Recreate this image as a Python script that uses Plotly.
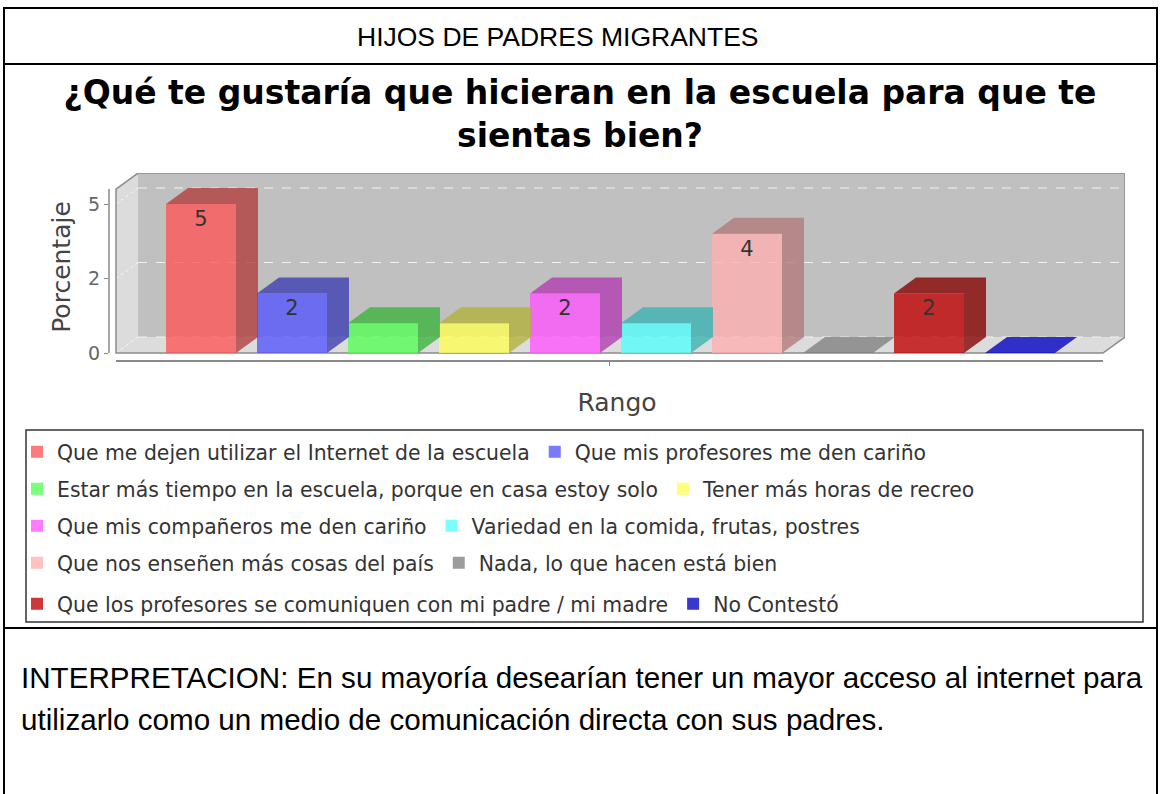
import plotly.graph_objects as go

# ---------------- data ----------------
categories = [
    "Que me dejen utilizar el Internet de la escuela",
    "Que mis profesores me den cariño",
    "Estar más tiempo en la escuela, porque en casa estoy solo",
    "Tener más horas de recreo",
    "Que mis compañeros me den cariño",
    "Variedad en la comida, frutas, postres",
    "Que nos enseñen más cosas del país",
    "Nada, lo que hacen está bien",
    "Que los profesores se comuniquen con mi padre / mi madre",
    "No Contestó",
]
values = [5, 2, 1, 1, 2, 1, 4, 0, 2, 0]
value_labels = ["5", "2", "", "", "2", "", "4", "", "2", ""]
colors = ["#FF5555", "#5555FF", "#55FF55", "#FFFF55", "#FF55FF",
          "#55FFFF", "#FFAFAF", "#808080", "#C00000", "#0000C0"]
y_ticks = [0, 2.5, 5]
y_tick_labels = ["0", "2", "5"]

header_text = "HIJOS DE PADRES MIGRANTES"
chart_title = "¿Qué te gustaría que hicieran en la escuela para que te<br>sientas bien?"
interp_lines = [
    "INTERPRETACION: En su mayoría desearían tener un mayor acceso al internet para",
    "utilizarlo como un medio de comunicación directa con sus padres.",
]

# ---------------- geometry helpers ----------------
W, H = 1160, 794
def px(x):
    return x / W
def py(y):
    return 1 - y / H

PPU_X, X0_PX = 91.0, 201.0
PPU_Y, Y0_PX = 29.8, 353.0
def xv(p):
    return (p - X0_PX) / PPU_X
def yv(p):
    return (Y0_PX - p) / PPU_Y

XL, XR = xv(116), xv(1103)
DX, DY = 22 / PPU_X, 16 / PPU_Y
WALL_TOP = 5.5
BW = 70 / PPU_X
ALPHA = 0.78

def hex_rgb(h):
    h = h.lstrip("#")
    return tuple(int(h[i:i + 2], 16) for i in (0, 2, 4))
def rgba(h, a, k=1.0):
    r, g, b = hex_rgb(h)
    return f"rgba({int(r * k)},{int(g * k)},{int(b * k)},{a})"

FONT = "DejaVu Sans"
legend_ids = ["legend", "legend2", "legend3", "legend4", "legend5"]
legend_rows_px = [452, 489, 526, 563, 604]

fig = go.Figure()

# side + top faces (3D look), derived from values
for i, v in enumerate(values):
    xl, xr = i - BW / 2, i + BW / 2
    xs = [xr, xr, xr + DX, xr + DX, xr, None, xl, xr, xr + DX, xl + DX, xl]
    ys = [0, v, v + DY, DY, 0, None, v, v, v + DY, v + DY, v]
    shade = 0.7 if v > 0 else 1.0
    fig.add_trace(go.Scatter(
        x=xs, y=ys, mode="lines", fill="toself",
        fillcolor=rgba(colors[i], ALPHA, shade), line=dict(width=0),
        hoverinfo="skip", showlegend=False))

# front faces
for i, v in enumerate(values):
    fig.add_trace(go.Bar(
        x=[i], y=[v], width=BW, name=categories[i],
        marker=dict(color=rgba(colors[i], ALPHA), line=dict(width=0)),
        text=[value_labels[i]], textposition="inside", insidetextanchor="end",
        textangle=0, constraintext="none",
        textfont=dict(family=FONT, size=21, color="#333333"),
        legend=legend_ids[i // 2]))

# ---------------- shapes ----------------
def path(pts):
    return "M " + " L ".join(f"{x},{y}" for x, y in pts) + " Z"

shapes = []
# floor
shapes.append(dict(type="path", xref="x", yref="y", layer="below",
                   path=path([(XL, 0), (XR, 0), (XR + DX, DY), (XL + DX, DY)]),
                   fillcolor="#DCDCDC", line=dict(width=0)))
# left wall
shapes.append(dict(type="path", xref="x", yref="y", layer="below",
                   path=path([(XL, 0), (XL, WALL_TOP), (XL + DX, WALL_TOP + DY), (XL + DX, DY)]),
                   fillcolor="#DCDCDC", line=dict(width=0)))
# back wall
shapes.append(dict(type="rect", xref="x", yref="y", layer="below",
                   x0=XL + DX, x1=XR + DX, y0=DY, y1=WALL_TOP + DY,
                   fillcolor="#C0C0C0", line=dict(width=0)))
# gridlines
for t in y_ticks:
    shapes.append(dict(type="line", xref="x", yref="y", layer="below",
                       x0=XL + DX, x1=XR + DX, y0=t + DY, y1=t + DY,
                       line=dict(color="#F2F2F2", width=1, dash="dash")))
    shapes.append(dict(type="line", xref="x", yref="y", layer="below",
                       x0=XL, x1=XL + DX, y0=t, y1=t + DY,
                       line=dict(color="#F8F8F8", width=1, dash="dot")))
# outline of the 3D box
shapes.append(dict(type="path", xref="x", yref="y", layer="below",
                   path=path([(XL, 0), (XL, WALL_TOP), (XL + DX, WALL_TOP + DY),
                              (XR + DX, WALL_TOP + DY), (XR + DX, DY), (XR, 0)]),
                   line=dict(color="#8A8A8A", width=1.5)))
# value axis line
shapes.append(dict(type="line", xref="x domain", yref="y", x0=0, x1=0,
                   y0=0, y1=WALL_TOP, line=dict(color="#8A8A8A", width=1.5)))
# category axis line
shapes.append(dict(type="line", xref="x", yref="y domain", x0=XL, x1=XR,
                   y0=0, y1=0, line=dict(color="#8A8A8A", width=2)))
# legend box
shapes.append(dict(type="rect", xref="paper", yref="paper",
                   x0=px(26), x1=px(1143), y0=py(622), y1=py(430),
                   line=dict(color="#333333", width=1.5)))
# document table lines
doc = dict(color="black", width=2)
shapes.append(dict(type="line", xref="paper", yref="paper", x0=px(3), x1=px(1158), y0=py(8), y1=py(8), line=doc))
shapes.append(dict(type="line", xref="paper", yref="paper", x0=px(4), x1=px(4), y0=py(8), y1=py(800), line=doc))
shapes.append(dict(type="line", xref="paper", yref="paper", x0=px(1157), x1=px(1157), y0=py(8), y1=py(800), line=doc))
shapes.append(dict(type="line", xref="paper", yref="paper", x0=px(4), x1=px(1157), y0=py(64), y1=py(64), line=doc))
shapes.append(dict(type="line", xref="paper", yref="paper", x0=px(4), x1=px(1157), y0=py(628), y1=py(628), line=doc))

# ---------------- annotations ----------------
annotations = [
    dict(text=header_text, xref="paper", yref="paper", x=px(558), y=py(37),
         xanchor="center", yanchor="middle", showarrow=False,
         font=dict(family="Liberation Sans, Arial", size=26.5, color="black")),
]
for k, line in enumerate(interp_lines):
    annotations.append(dict(text=line, xref="paper", yref="paper",
                            x=px(19), y=py([677, 719][k]), xanchor="left", yanchor="middle",
                            showarrow=False,
                            font=dict(family="Liberation Sans, Arial", size=29.6, color="black")))

layout_legends = {}
for r, lid in enumerate(legend_ids):
    layout_legends[lid] = dict(
        orientation="h", x=px(17), xanchor="left", y=py(legend_rows_px[r]), yanchor="middle",
        bgcolor="rgba(0,0,0,0)", borderwidth=0, traceorder="normal",
        font=dict(family=FONT, size=20.4, color="#333333"),
        itemclick=False, itemdoubleclick=False)

fig.update_layout(
    width=W, height=H, margin=dict(l=0, r=0, t=0, b=0),
    paper_bgcolor="white", plot_bgcolor="rgba(0,0,0,0)",
    barmode="overlay", showlegend=True,
    title=dict(text=chart_title, x=px(580), xanchor="center", y=py(104), yanchor="top",
               font=dict(family=FONT, size=33, color="black", weight="bold")),
    xaxis=dict(domain=[px(109), px(1125)], range=[xv(109), xv(1125)],
               showgrid=False, zeroline=False, showline=False,
               tickvals=[(XL + XR) / 2], ticktext=[""], ticks="outside", ticklen=4,
               tickcolor="#8A8A8A", automargin=False, fixedrange=True,
               title=dict(text="Rango", standoff=26,
                          font=dict(family=FONT, size=25, color="#444444"))),
    yaxis=dict(domain=[py(361), py(173)], range=[yv(361), yv(173)],
               showgrid=False, zeroline=False, showline=False,
               tickvals=y_ticks, ticktext=y_tick_labels, ticks="outside", ticklen=4,
               tickcolor="#8A8A8A", automargin=False, fixedrange=True,
               tickfont=dict(family=FONT, size=19, color="#666666"),
               title=dict(text="Porcentaje", standoff=10,
                          font=dict(family=FONT, size=25, color="#444444"))),
    shapes=shapes, annotations=annotations,
    **layout_legends,
)

fig.write_html("out.html", config={"displayModeBar": False},
               post_script="document.body.style.margin='0';document.body.style.overflow='hidden';")
